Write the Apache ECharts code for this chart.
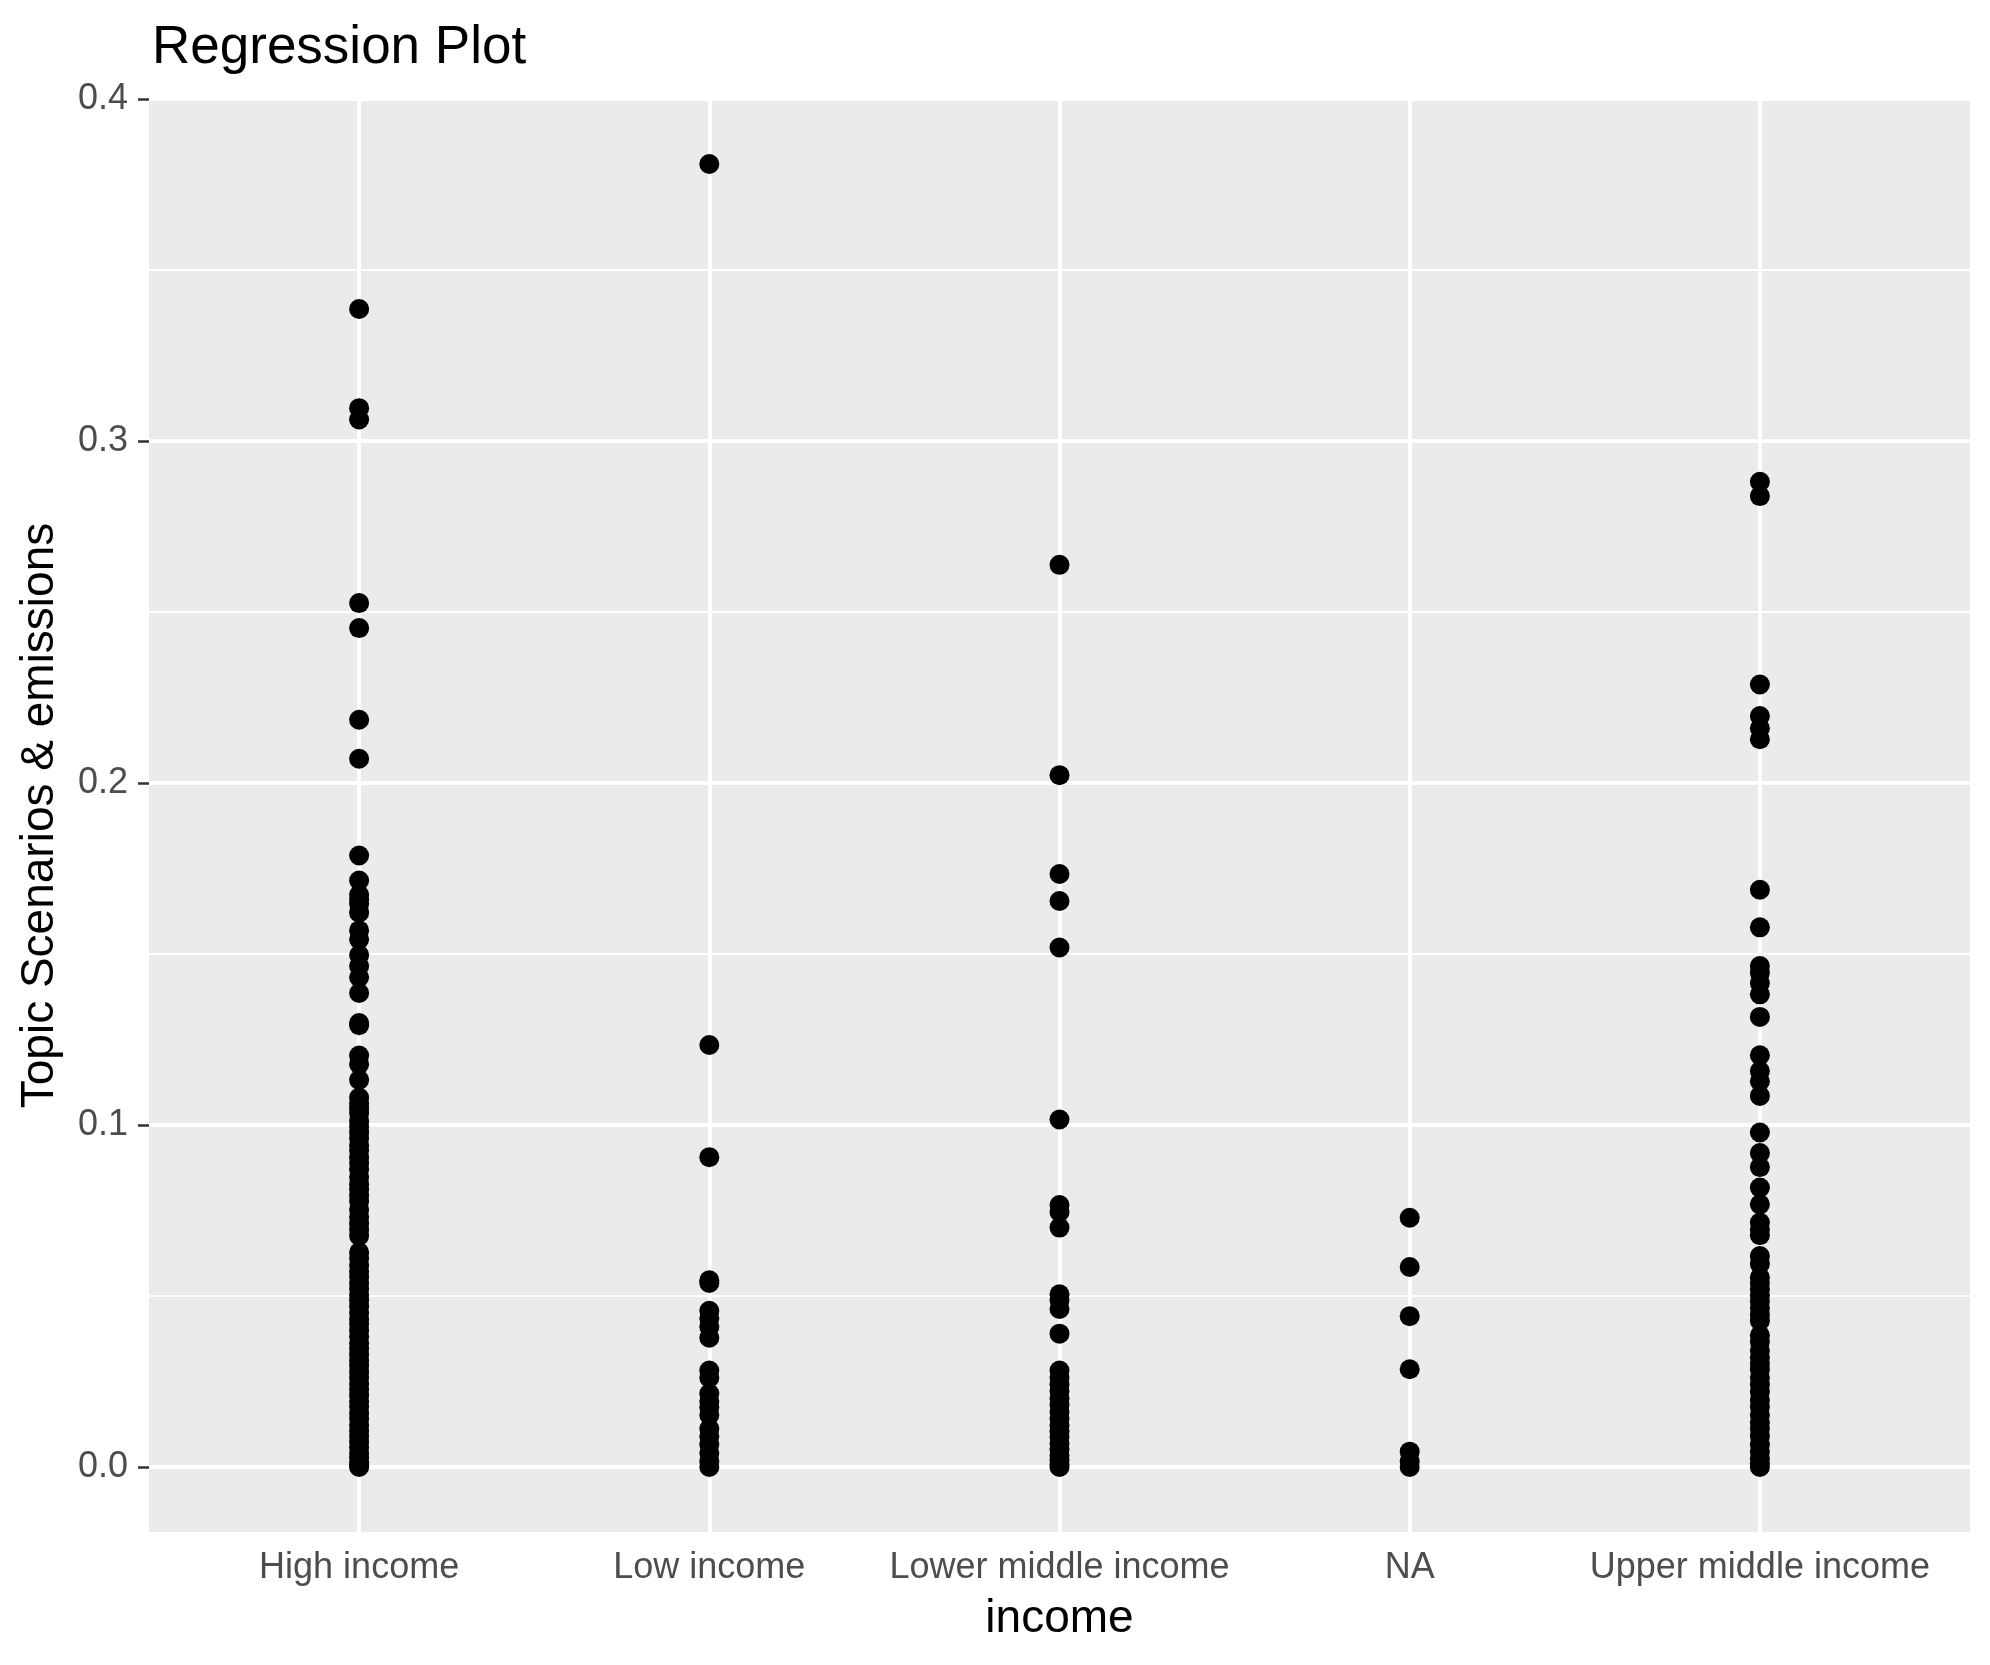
<!DOCTYPE html>
<html>
<head>
<meta charset="utf-8">
<script src="https://cdn.jsdelivr.net/npm/echarts@6/dist/echarts.min.js"></script>
<style>html,body{margin:0;padding:0;background:#fff;}#c{width:1990px;height:1665px;}</style>
</head>
<body>
<div id="c"></div>
<script>
const categories = ['High income', 'Low income', 'Lower middle income', 'NA', 'Upper middle income'];
const yTicks = [0, 0.1, 0.2, 0.3, 0.4];
const yMinor = [0.05, 0.15, 0.25, 0.35];

const highIncome = [0.3386, 0.3096, 0.3063, 0.2526, 0.2453, 0.2185, 0.2071, 0.1788, 0.1715, 0.1673, 0.1660, 0.1647, 0.1621, 0.1569, 0.1543, 0.1497, 0.1465, 0.1432, 0.1386, 0.1298, 0.1292, 0.1203, 0.1178, 0.1132, 0.1080, 0.1062, 0.1048, 0.1035, 0.1012, 0.0995, 0.0978, 0.0962, 0.0941, 0.0926, 0.0905, 0.0889, 0.0871, 0.0848, 0.0826, 0.0812, 0.0795, 0.0778, 0.0752, 0.0731, 0.0712, 0.0694, 0.0676, 0.0628, 0.0611, 0.0589, 0.0572, 0.0556, 0.0538, 0.0521, 0.0503, 0.0487, 0.0469, 0.0452, 0.0433, 0.0418, 0.0399, 0.0381, 0.0362, 0.0347, 0.0329, 0.0311, 0.0296, 0.0278, 0.0262, 0.0243, 0.0227, 0.0209, 0.0192, 0.0176, 0.0158, 0.0141, 0.0123, 0.0107, 0.0091, 0.0074, 0.0058, 0.0041, 0.0027, 0.0014, 0.0005, 0.0];
const lowIncome = [0.3810, 0.1234, 0.0906, 0.0546, 0.0538, 0.0457, 0.0435, 0.0410, 0.0378, 0.0282, 0.0261, 0.0215, 0.0192, 0.0175, 0.0152, 0.0112, 0.0090, 0.0066, 0.0041, 0.0016, 0.0];
const lowerMiddleIncome = [0.2638, 0.2023, 0.1734, 0.1655, 0.1519, 0.1016, 0.0766, 0.0746, 0.0700, 0.0505, 0.0488, 0.0462, 0.0390, 0.0282, 0.0262, 0.0241, 0.0222, 0.0201, 0.0182, 0.0161, 0.0141, 0.0122, 0.0104, 0.0088, 0.0069, 0.0051, 0.0034, 0.0019, 0.0008, 0.0];
const naIncome = [0.0729, 0.0585, 0.0441, 0.0286, 0.0045, 0.0016, 0.0];
const upperMiddleIncome = [0.2881, 0.2839, 0.2288, 0.2196, 0.2160, 0.2128, 0.1688, 0.1578, 0.1465, 0.1445, 0.1415, 0.1382, 0.1316, 0.1204, 0.1158, 0.1128, 0.1085, 0.0978, 0.0918, 0.0877, 0.0817, 0.0768, 0.0715, 0.0695, 0.0678, 0.0617, 0.0594, 0.0555, 0.0538, 0.0520, 0.0502, 0.0485, 0.0465, 0.0445, 0.0428, 0.0385, 0.0366, 0.0341, 0.0321, 0.0302, 0.0285, 0.0262, 0.0241, 0.0220, 0.0196, 0.0176, 0.0152, 0.0131, 0.0112, 0.0091, 0.0066, 0.0046, 0.0026, 0.0011, 0.0];

const groups = [highIncome, lowIncome, lowerMiddleIncome, naIncome, upperMiddleIncome];
const points = [];
groups.forEach((vals, i) => vals.forEach(v => points.push([i + 1, v])));
const catPositions = categories.map((c, i) => i + 1);

const chart = echarts.init(document.getElementById('c'), null, {renderer: 'canvas'});
const fontFam = 'Liberation Sans, Arial, Helvetica, sans-serif';
chart.setOption({
  animation: false,
  backgroundColor: '#FFFFFF',
  title: {
    text: 'Regression Plot',
    left: 147, top: 17,
    textStyle: {fontFamily: fontFam, fontSize: 53, fontWeight: 'normal', color: '#000000'}
  },
  grid: {
    left: 149, right: 20, top: 99, height: 1433,
    show: true, backgroundColor: '#EBEBEB', borderWidth: 0
  },
  xAxis: {
    type: 'value', min: 0.4, max: 5.6,
    name: 'income', nameLocation: 'middle', nameGap: 64,
    nameTextStyle: {fontFamily: fontFam, fontSize: 46, color: '#000000'},
    axisLine: {show: false},
    axisTick: {show: true, length: 11, customValues: catPositions, lineStyle: {color: '#333333', width: 2.5}},
    axisLabel: {customValues: catPositions, margin: 18, fontFamily: fontFam, fontSize: 36, color: '#4D4D4D',
      formatter: v => categories[Math.round(v) - 1] || ''},
    splitLine: {show: false}
  },
  yAxis: {
    type: 'value', min: -0.019, max: 0.4,
    name: 'Topic Scenarios & emissions', nameLocation: 'middle', nameGap: 86, nameRotate: 90,
    nameTextStyle: {fontFamily: fontFam, fontSize: 46, color: '#000000'},
    axisLine: {show: false},
    axisTick: {show: true, length: 11, customValues: yTicks, lineStyle: {color: '#333333', width: 2.5}},
    axisLabel: {customValues: yTicks, margin: 21, fontFamily: fontFam, fontSize: 36, color: '#4D4D4D',
      formatter: v => v.toFixed(1)},
    splitLine: {show: false}
  },
  series: [
    {
      type: 'scatter', data: [], silent: true, z: 1,
      markLine: {
        silent: true, symbol: 'none', animation: false, label: {show: false},
        data: [
          ...yMinor.map(v => ({yAxis: v, lineStyle: {color: '#FFFFFF', width: 2, type: 'solid'}})),
          ...yTicks.map(v => ({yAxis: v, lineStyle: {color: '#FFFFFF', width: 4, type: 'solid'}})),
          ...catPositions.map(v => ({xAxis: v, lineStyle: {color: '#FFFFFF', width: 4, type: 'solid'}}))
        ]
      }
    },
    {
      type: 'scatter', data: points, z: 5,
      symbol: 'circle', symbolSize: 20,
      itemStyle: {color: '#000000', opacity: 1}
    }
  ]
});
</script>
</body>
</html>
